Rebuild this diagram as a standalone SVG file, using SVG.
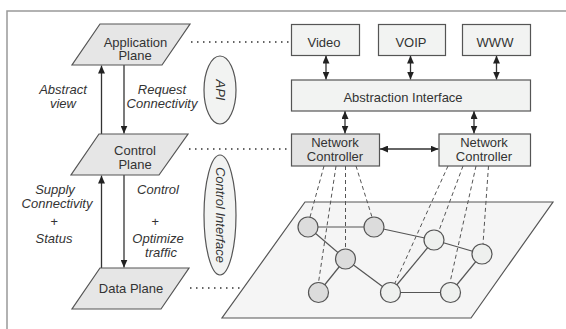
<svg xmlns="http://www.w3.org/2000/svg" width="566" height="329" viewBox="0 0 566 329">
<style>
text{font-family:"Liberation Sans",Arial,sans-serif;font-size:13px;fill:#333}
.it{font-style:italic}
.pl{fill:#e6e6e6;stroke:#555;stroke-width:1.2}
.bx{fill:#f2f3f2;stroke:#555;stroke-width:1.2}
.bxg{fill:#e3e3e3;stroke:#555;stroke-width:1.2}
.ell{fill:#f2f3f2;stroke:#555;stroke-width:1.2}
.ar{stroke:#333;stroke-width:1.3;fill:none}
.dot{stroke:#333;stroke-width:1.6;stroke-dasharray:1.5 4.5;fill:none}
.dash{stroke:#555;stroke-width:1;stroke-dasharray:4 3;fill:none}
.edge{stroke:#555;stroke-width:1.2}
.ng{fill:#dcdcdc;stroke:#555;stroke-width:1.2}
.nl{fill:#eef0ee;stroke:#555;stroke-width:1.2}
</style>
<defs>
<marker id="ah" viewBox="0 0 8 7" refX="8" refY="3.5" markerWidth="8" markerHeight="7" markerUnits="userSpaceOnUse" orient="auto-start-reverse">
<path d="M0,0 L8,3.5 L0,7 z" fill="#222"/>
</marker>
</defs>
<rect width="566" height="329" fill="#fff"/>
<path d="M7,329 V11 H566" fill="none" stroke="#999" stroke-width="1.5"/>

<g id="connectors">
<line class="dot" x1="191" y1="42" x2="290" y2="42"/>
<line class="dot" x1="189" y1="149" x2="290" y2="149"/>
<line class="dot" x1="190" y1="288" x2="245" y2="288"/>
<line class="ar" x1="101.5" y1="134" x2="101.5" y2="65.5" marker-end="url(#ah)"/>
<line class="ar" x1="124" y1="65" x2="124" y2="133.5" marker-end="url(#ah)"/>
<line class="ar" x1="101.5" y1="268" x2="101.5" y2="175.5" marker-end="url(#ah)"/>
<line class="ar" x1="124" y1="175" x2="124" y2="267.5" marker-end="url(#ah)"/>
<line class="ar" x1="326" y1="55.5" x2="326" y2="79.5" marker-start="url(#ah)" marker-end="url(#ah)"/>
<line class="ar" x1="410.5" y1="55.5" x2="410.5" y2="79.5" marker-start="url(#ah)" marker-end="url(#ah)"/>
<line class="ar" x1="496.5" y1="55.5" x2="496.5" y2="79.5" marker-start="url(#ah)" marker-end="url(#ah)"/>
<line class="ar" x1="345" y1="111" x2="345" y2="133.5" marker-start="url(#ah)" marker-end="url(#ah)"/>
<line class="ar" x1="474" y1="111" x2="474" y2="133.5" marker-start="url(#ah)" marker-end="url(#ah)"/>
<line class="ar" x1="380" y1="149" x2="438.5" y2="149" marker-start="url(#ah)" marker-end="url(#ah)"/>
</g>

<g id="api"><ellipse class="ell" cx="220" cy="90" rx="16" ry="34"/>
<text class="it" transform="translate(220,90) rotate(90)" x="0" y="4.5" text-anchor="middle">API</text></g>
<g id="control-interface"><ellipse class="ell" cx="220" cy="215" rx="16" ry="60"/>
<text class="it" transform="translate(220,215) rotate(90)" x="0" y="4.5" text-anchor="middle">Control Interface</text></g>

<g id="application-plane"><polygon class="pl" points="100,24 190,24 162,65 72,65"/>
<text x="135.5" y="46.5" text-anchor="middle">Application</text><text x="135" y="60" text-anchor="middle">Plane</text></g>
<g id="control-plane"><polygon class="pl" points="99,134 188,134 159,175 71,175"/>
<text x="135" y="155" text-anchor="middle">Control</text><text x="135" y="169" text-anchor="middle">Plane</text></g>
<g id="data-plane"><polygon class="pl" points="100,268 189,268 161,309 72,309"/>
<text x="131" y="293" text-anchor="middle">Data Plane</text></g>

<g id="labels">
<text class="it" x="63" y="94" text-anchor="middle">Abstract</text>
<text class="it" x="63" y="107.5" text-anchor="middle">view</text>
<text class="it" x="162" y="94" text-anchor="middle">Request</text>
<text class="it" x="162" y="108" text-anchor="middle">Connectivity</text>
<text class="it" x="55" y="194" text-anchor="middle">Supply</text>
<text class="it" x="57" y="207.5" text-anchor="middle">Connectivity</text>
<text class="it" x="54" y="226" text-anchor="middle">+</text>
<text class="it" x="54" y="243" text-anchor="middle">Status</text>
<text class="it" x="158" y="194" text-anchor="middle">Control</text>
<text class="it" x="155" y="226" text-anchor="middle">+</text>
<text class="it" x="158" y="243" text-anchor="middle">Optimize</text>
<text class="it" x="161" y="257" text-anchor="middle">traffic</text>
</g>

<g id="video"><rect class="bx" x="291.5" y="24.5" width="68" height="31"/><text x="324" y="46.5" text-anchor="middle">Video</text></g>
<g id="voip"><rect class="bx" x="378.5" y="24.5" width="67" height="31"/><text x="411" y="46.5" text-anchor="middle">VOIP</text></g>
<g id="www"><rect class="bx" x="462.5" y="24.5" width="68" height="31"/><text x="495" y="46.5" text-anchor="middle">WWW</text></g>
<g id="abstraction-interface"><rect class="bx" x="291.5" y="80" width="239" height="31"/><text x="403" y="101.5" text-anchor="middle">Abstraction Interface</text></g>
<g id="network-controller-1"><rect class="bxg" x="291.5" y="134" width="88" height="32"/><text x="335" y="147" text-anchor="middle">Network</text><text x="335" y="161" text-anchor="middle">Controller</text></g>
<g id="network-controller-2"><rect class="bx" x="439" y="134" width="91.5" height="32"/><text x="484" y="147" text-anchor="middle">Network</text><text x="484" y="161" text-anchor="middle">Controller</text></g>

<g id="network-plane"><polygon points="305,202 553,202 471,318 222,318" fill="#f5f5f5" stroke="#555" stroke-width="1.2"/></g>

<g id="network-links">
<line class="edge" x1="308" y1="227" x2="374" y2="227"/>
<line class="edge" x1="308" y1="227" x2="345.5" y2="259"/>
<line class="edge" x1="345.5" y1="259" x2="318.5" y2="292.5"/>
<line class="edge" x1="345.5" y1="259" x2="390.5" y2="292.5"/>
<line class="edge" x1="374" y1="227" x2="434" y2="240"/>
<line class="edge" x1="434" y1="240" x2="482" y2="254"/>
<line class="edge" x1="434" y1="240" x2="390.5" y2="292.5"/>
<line class="edge" x1="390.5" y1="292.5" x2="450.5" y2="292.5"/>
<line class="edge" x1="450.5" y1="292.5" x2="482" y2="254"/>
</g>

<g id="control-links">
<line class="dash" x1="324" y1="166" x2="310" y2="217"/>
<line class="dash" x1="336" y1="166" x2="318.5" y2="282.5"/>
<line class="dash" x1="345.5" y1="166" x2="345.5" y2="249"/>
<line class="dash" x1="356" y1="166" x2="372" y2="217"/>
<line class="dash" x1="448" y1="166" x2="395" y2="283"/>
<line class="dash" x1="463" y1="166" x2="439" y2="230.5"/>
<line class="dash" x1="476" y1="166" x2="450" y2="282.5"/>
<line class="dash" x1="488.5" y1="166" x2="483" y2="244"/>
</g>

<g id="nodes">
<circle class="ng" cx="308" cy="227" r="10"/>
<circle class="ng" cx="374" cy="227" r="10"/>
<circle class="ng" cx="345.5" cy="259" r="10"/>
<circle class="ng" cx="318.5" cy="292.5" r="10"/>
<circle class="nl" cx="390.5" cy="292.5" r="10"/>
<circle class="nl" cx="434" cy="240" r="10"/>
<circle class="nl" cx="482" cy="254" r="10"/>
<circle class="nl" cx="450.5" cy="292.5" r="10"/>
</g>
</svg>
